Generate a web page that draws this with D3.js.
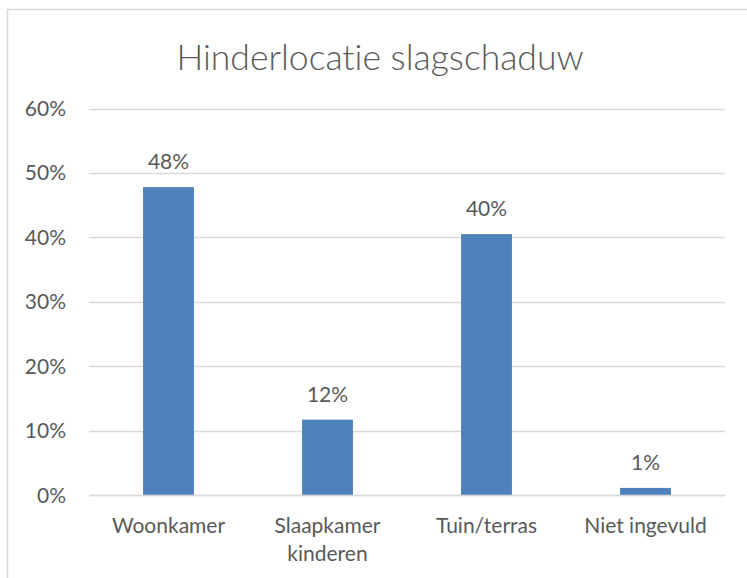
<!DOCTYPE html>
<html>
<head>
<meta charset="utf-8">
<script src="https://cdn.jsdelivr.net/npm/d3@7"></script>
<style>
  body { margin: 0; background: #fff; }
  text { font-family: Lato, "Open Sans", sans-serif; fill: #595959; font-variant-ligatures: none; }
</style>
</head>
<body>
<div id="chart"></div>
<script>
var title = "Hinderlocatie slagschaduw";
var categories = [["Woonkamer"], ["Slaapkamer", "kinderen"], ["Tuin/terras"], ["Niet ingevuld"]];
var values = [47.8, 11.7, 40.5, 1.1];
var valueLabels = ["48%", "12%", "40%", "1%"];
var yTicks = [0, 10, 20, 30, 40, 50, 60];

var W = 747, H = 578;
var svg = d3.select("#chart").append("svg").attr("width", W).attr("height", H);

// chart frame (runs off right and bottom edges like the reference)
svg.append("rect")
    .attr("x", 7.5).attr("y", 9.5)
    .attr("width", W + 10).attr("height", H + 10)
    .attr("fill", "#fff").attr("stroke", "#d9d9d9").attr("stroke-width", 1.5);

var plotL = 89, plotR = 725, plotT = 108.5, plotB = 495;

var x = d3.scaleBand()
    .domain(d3.range(categories.length))
    .range([plotL, plotR])
    .paddingInner(0.68).paddingOuter(0.34);

var y = d3.scaleLinear().domain([0, 60]).range([plotB, plotT]);

// gridlines
svg.append("g").selectAll("line").data(yTicks).enter().append("line")
    .attr("x1", plotL).attr("x2", plotR)
    .attr("y1", function (d) { return Math.round(y(d)) + 0.5; })
    .attr("y2", function (d) { return Math.round(y(d)) + 0.5; })
    .attr("stroke", "#d9d9d9").attr("stroke-width", 1.3);

// y tick labels
svg.append("g").selectAll("text").data(yTicks).enter().append("text")
    .attr("x", 66).attr("y", function (d) { return y(d); })
    .attr("dy", "0.36em")
    .attr("text-anchor", "end")
    .style("font-size", "21px")
    .text(function (d) { return d + "%"; });

// bars
svg.append("g").selectAll("rect").data(values).enter().append("rect")
    .attr("x", function (d, i) { return x(i); })
    .attr("width", x.bandwidth())
    .attr("y", function (d) { return y(d); })
    .attr("height", function (d) { return y(0) - y(d); })
    .attr("fill", "#4f81bd");

// redraw baseline over bars
svg.append("line")
    .attr("x1", plotL).attr("x2", plotR)
    .attr("y1", Math.round(y(0)) + 0.5).attr("y2", Math.round(y(0)) + 0.5)
    .attr("stroke", "#d9d9d9").attr("stroke-width", 1.5);

// value labels
svg.append("g").selectAll("text").data(values).enter().append("text")
    .attr("x", function (d, i) { return x(i) + x.bandwidth() / 2; })
    .attr("y", function (d) { return y(d) - 18; })
    .attr("text-anchor", "middle")
    .style("font-size", "21px")
    .text(function (d, i) { return valueLabels[i]; });

// category labels
var cat = svg.append("g").selectAll("text").data(categories).enter().append("text")
    .attr("text-anchor", "middle")
    .style("font-size", "21px");
cat.selectAll("tspan").data(function (d, i) { return d.map(function (s) { return { s: s, i: i }; }); })
    .enter().append("tspan")
    .attr("x", function (d) { return x(d.i) + x.bandwidth() / 2; })
    .attr("y", function (d, j) { return 533 + j * 28; })
    .text(function (d) { return d.s; });

// title
svg.append("text")
    .attr("x", 380).attr("y", 70)
    .attr("text-anchor", "middle")
    .style("font-size", "35.5px").style("font-weight", 300)
    .text(title);
</script>
</body>
</html>
